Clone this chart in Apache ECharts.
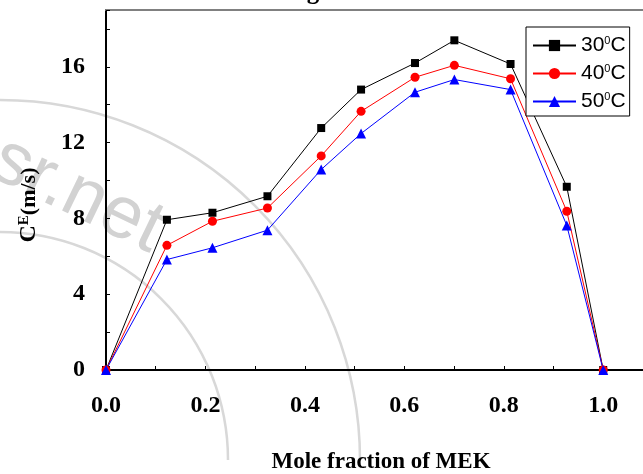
<!DOCTYPE html>
<html>
<head>
<meta charset="utf-8">
<script src="https://cdn.jsdelivr.net/npm/echarts@6/dist/echarts.min.js"></script>
<style>
  html, body { margin: 0; padding: 0; background: #fff; }
  #chart { width: 643px; height: 474px; }
</style>
</head>
<body>
<div id="chart"></div>
<script>
// Excess ultrasonic velocity C^E (m/s) against mole fraction of MEK
const moleFraction = [0, 0.1225, 0.2141, 0.3247, 0.4328, 0.513, 0.6215, 0.7006, 0.8136, 0.9267, 1.0];
const ce30 = [0, 7.93, 8.30, 9.17, 12.77, 14.80, 16.20, 17.40, 16.15, 9.67, 0];
const ce40 = [0, 6.58, 7.85, 8.55, 11.30, 13.65, 15.45, 16.08, 15.37, 8.38, 0];
const ce50 = [0, 5.83, 6.45, 7.38, 10.58, 12.48, 14.66, 15.33, 14.80, 7.63, 0];
const tempLabels = ['30', '40', '50'];
const xTickLabels = ['0.0', '0.2', '0.4', '0.6', '0.8', '1.0'];
const yTickLabels = ['0', '4', '8', '12', '16'];

const serif = '"Liberation Serif", "Times New Roman", serif';
const sans = '"Liberation Sans", Arial, sans-serif';

function pairs(ys) {
  return moleFraction.map((x, i) => [x, ys[i]]);
}

function xLabel(v) {
  const hit = xTickLabels.find(t => Math.abs(parseFloat(t) - v) < 1e-6);
  return hit || '';
}
function yLabel(v) {
  const hit = yTickLabels.find(t => Math.abs(parseFloat(t) - v) < 1e-6);
  return hit || '';
}

const seriesStyle = [
  { data: ce30, color: '#000000', symbol: 'rect', size: 8 },
  { data: ce40, color: '#ff0000', symbol: 'circle', size: 9 },
  { data: ce50, color: '#0000ff', symbol: 'triangle', size: 10 }
];

const chart = echarts.init(document.getElementById('chart'), null, { renderer: 'canvas' });

chart.setOption({
  animation: false,
  backgroundColor: '#ffffff',
  grid: { left: 106, right: 0, top: 10, bottom: 104, outerBoundsMode: 'none', containLabel: false },
  xAxis: [
    {
      type: 'value', min: 0, max: 1.08, interval: 0.1, position: 'bottom',
      name: 'Mole fraction of MEK', nameLocation: 'middle', nameGap: 81, nameMoveOverlap: false,
      nameTextStyle: { fontFamily: serif, fontWeight: 'bold', fontSize: 23, color: '#000', padding: [0, 0, 0, 13] },
      axisLine: { show: true, onZero: false, lineStyle: { color: '#000', width: 2 } },
      axisTick: { show: true, inside: true, length: 4, lineStyle: { color: '#000', width: 1 } },
      axisLabel: { formatter: xLabel, margin: 24, fontFamily: serif, fontWeight: 'bold', fontSize: 24, color: '#000' },
      splitLine: { show: false }
    },
    {
      type: 'value', min: 0, max: 1.08, position: 'top',
      axisLine: { show: true, onZero: false, lineStyle: { color: '#808080', width: 2 } },
      axisTick: { show: false }, axisLabel: { show: false }, splitLine: { show: false }
    }
  ],
  yAxis: {
    type: 'value', min: 0, max: 19, interval: 2,
    axisLine: { show: true, onZero: false, lineStyle: { color: '#000', width: 2 } },
    axisTick: { show: true, inside: true, length: 4, lineStyle: { color: '#000', width: 1 } },
    axisLabel: { formatter: yLabel, margin: 21, fontFamily: serif, fontWeight: 'bold', fontSize: 24, color: '#000' },
    splitLine: { show: false }
  },
  legend: {
    orient: 'vertical', left: 526, top: 27,
    padding: [8, 4, 4, 6], itemGap: 7, itemWidth: 43, itemHeight: 14,
    backgroundColor: '#ffffff', borderColor: '#000000', borderWidth: 1, borderRadius: 0,
    data: tempLabels,
    formatter: name => '{n|' + name + '}{s|0}{n|C}',
    textStyle: {
      rich: {
        n: { fontFamily: sans, fontSize: 21, color: '#000' },
        s: { fontFamily: sans, fontSize: 11, color: '#000', verticalAlign: 'top' }
      }
    }
  },
  graphic: [
    // faint circular watermark behind the plot
    { type: 'arc', z: -10, silent: true, shape: { cx: 0, cy: 460, r: 360, startAngle: -Math.PI / 2, endAngle: 0 },
      style: { stroke: '#d8d8d8', lineWidth: 2.5, fill: null } },
    { type: 'arc', z: -10, silent: true, shape: { cx: 0, cy: 460, r: 228, startAngle: -Math.PI / 2, endAngle: 0 },
      style: { stroke: '#d8d8d8', lineWidth: 2.5, fill: null } },
    { type: 'text', z: -10, silent: true, x: -4, y: 156, rotation: -0.45,
      style: { text: 'sr.net', fontFamily: sans, fontSize: 74, fill: '#d2d2d2', align: 'left', verticalAlign: 'middle' } },
    // figure caption, clipped by the top edge
    { type: 'text', x: 329, y: -7,
      style: { text: 'Figure 1', fontFamily: serif, fontWeight: 'bold', fontSize: 25, fill: '#000', align: 'center', verticalAlign: 'middle' } },
    // vertical axis title with superscript
    { type: 'text', x: 29, y: 205, rotation: Math.PI / 2,
      style: {
        text: '{c|C}{e|E}{u|(m/s)}', align: 'center', verticalAlign: 'middle',
        rich: {
          c: { fontFamily: serif, fontWeight: 'bold', fontSize: 24, fill: '#000' },
          e: { fontFamily: serif, fontWeight: 'bold', fontSize: 15, fill: '#000', verticalAlign: 'top' },
          u: { fontFamily: serif, fontWeight: 'bold', fontSize: 22, fill: '#000' }
        }
      } }
  ],
  series: seriesStyle.map((s, i) => ({
    name: tempLabels[i],
    type: 'line',
    xAxisIndex: 0,
    data: pairs(s.data),
    symbol: s.symbol,
    symbolSize: s.size,
    showAllSymbol: true,
    lineStyle: { color: s.color, width: 1 },
    itemStyle: { color: s.color, borderWidth: 0 },
    emphasis: { disabled: true }
  }))
});
</script>
</body>
</html>
